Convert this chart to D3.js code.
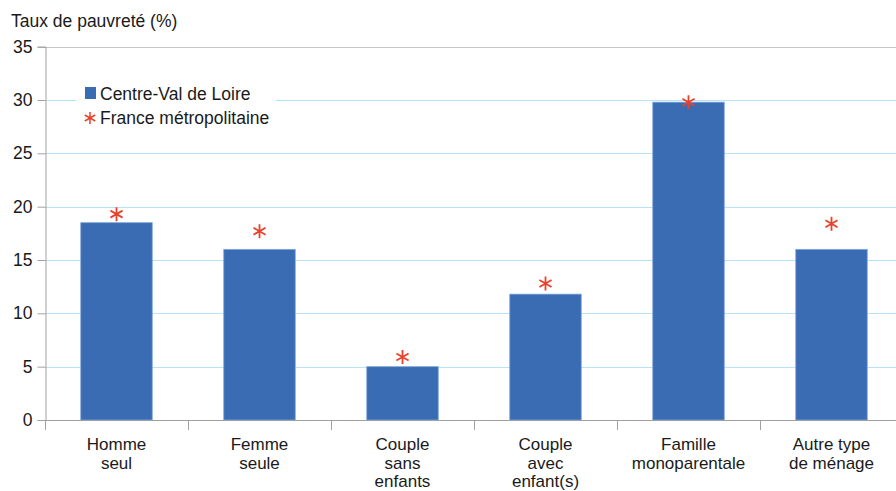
<!DOCTYPE html>
<html>
<head>
<meta charset="utf-8">
<script src="https://cdn.jsdelivr.net/npm/d3@7"></script>
<style>
  html, body { margin: 0; padding: 0; background: #fff; }
  svg { display: block; font-family: "Liberation Sans", Arial, sans-serif; }
</style>
</head>
<body>
<svg id="chart" width="896" height="491"></svg>
<script>
// Household types (multi-line labels)
const categories = [
  ["Homme", "seul"],
  ["Femme", "seule"],
  ["Couple", "sans", "enfants"],
  ["Couple", "avec", "enfant(s)"],
  ["Famille", "monoparentale"],
  ["Autre type", "de ménage"]
];
// Poverty rate, Centre-Val de Loire (%)
const regionValues = [18.5, 16.0, 5.0, 11.8, 29.8, 16.0];
// Poverty rate, France métropolitaine (%)
const franceValues = [19.3, 17.7, 5.9, 12.8, 29.8, 18.4];
const yTicks = [0, 5, 10, 15, 20, 25, 30, 35];
const seriesNames = ["Centre-Val de Loire", "France métropolitaine"];
const yTitle = "Taux de pauvreté (%)";

const svg = d3.select("#chart");
const plotLeft = 45, plotRight = 903, plotTop = 46.7, plotBottom = 420;
const fontMain = 17.5, fontCat = 17;

const keys = categories.map(c => c.join(" "));
const x = d3.scaleBand().domain(keys).range([plotLeft, plotRight])
  .paddingInner(0.5).paddingOuter(0.25);
const y = d3.scaleLinear().domain([0, 35]).range([plotBottom, plotTop]);

const textColor = "#1a1a1a";
const axisColor = "#a0a0a0";

// horizontal gridlines
svg.append("g").selectAll("line")
  .data(yTicks.filter(t => t > 0))
  .join("line")
  .attr("x1", plotLeft).attr("x2", 896)
  .attr("y1", d => Math.round(y(d)) + 0.5).attr("y2", d => Math.round(y(d)) + 0.5)
  .attr("stroke", d => d === 35 ? "#c4c4c4" : "#b8e2f6")
  .attr("stroke-width", 1);

// y axis
const yAxis = svg.append("g")
  .attr("transform", `translate(${plotLeft + 0.5},0)`)
  .call(d3.axisLeft(y).tickValues(yTicks).tickSize(8).tickPadding(5));
yAxis.select(".domain").attr("stroke", axisColor);
yAxis.selectAll(".tick line").attr("stroke", axisColor);
yAxis.selectAll(".tick text")
  .attr("font-size", fontMain).attr("fill", textColor)
  .attr("font-family", "Liberation Sans, Arial, sans-serif");

// bars
svg.append("g").selectAll("rect")
  .data(regionValues)
  .join("rect")
  .attr("x", (d, i) => x(keys[i]))
  .attr("y", d => y(d))
  .attr("width", x.bandwidth())
  .attr("height", d => y(0) - y(d))
  .attr("fill", "#3a6cb4")
  .attr("stroke", "#7ea6d9")
  .attr("stroke-width", 0.8);

// x axis with ticks on category boundaries
const xAxisG = svg.append("g");
xAxisG.append("line")
  .attr("x1", plotLeft).attr("x2", 896)
  .attr("y1", plotBottom + 0.5).attr("y2", plotBottom + 0.5)
  .attr("stroke", axisColor);
const step = x.step();
xAxisG.selectAll("line.tk")
  .data(d3.range(keys.length))
  .join("line").attr("class", "tk")
  .attr("x1", i => Math.round(x(keys[i]) - x.paddingOuter() * step) + 0.5)
  .attr("x2", i => Math.round(x(keys[i]) - x.paddingOuter() * step) + 0.5)
  .attr("y1", plotBottom).attr("y2", plotBottom + 10)
  .attr("stroke", axisColor);

// category labels
const labels = svg.append("g");
categories.forEach((lines, i) => {
  const t = labels.append("text")
    .attr("x", x(keys[i]) + x.bandwidth() / 2)
    .attr("y", 450)
    .attr("text-anchor", "middle")
    .attr("font-size", fontCat)
    .attr("fill", textColor);
  lines.forEach((ln, j) => {
    t.append("tspan")
      .attr("x", x(keys[i]) + x.bandwidth() / 2)
      .attr("dy", j === 0 ? 0 : 18.5)
      .text(ln);
  });
});

// asterisk marker path
function asterisk(r) {
  const t = r / 2, u = t * Math.sqrt(3);
  return `M0,${r}L0,${-r}M${-u},${-t}L${u},${t}M${-u},${t}L${u},${-t}`;
}
const starColor = "#e8432a";
svg.append("g").selectAll("path")
  .data(franceValues)
  .join("path")
  .attr("transform", (d, i) => `translate(${x(keys[i]) + x.bandwidth() / 2},${y(d)})`)
  .attr("d", asterisk(7))
  .attr("fill", "none")
  .attr("stroke", starColor)
  .attr("stroke-width", 1.8);

// y title
svg.append("text")
  .attr("x", 11).attr("y", 27)
  .attr("font-size", fontMain).attr("fill", textColor)
  .text(yTitle);

// legend
const legend = svg.append("g");
legend.append("rect")
  .attr("x", 76).attr("y", 80).attr("width", 200).attr("height", 52)
  .attr("fill", "#fff");
legend.append("rect")
  .attr("x", 85).attr("y", 87).attr("width", 11).attr("height", 12)
  .attr("fill", "#3a6cb4");
legend.append("text")
  .attr("x", 100).attr("y", 100)
  .attr("font-size", fontMain).attr("fill", textColor)
  .text(seriesNames[0]);
legend.append("path")
  .attr("transform", "translate(90,118)")
  .attr("d", asterisk(6))
  .attr("fill", "none")
  .attr("stroke", starColor)
  .attr("stroke-width", 1.5);
legend.append("text")
  .attr("x", 100).attr("y", 124)
  .attr("font-size", fontMain).attr("fill", textColor)
  .text(seriesNames[1]);
</script>
</body>
</html>
